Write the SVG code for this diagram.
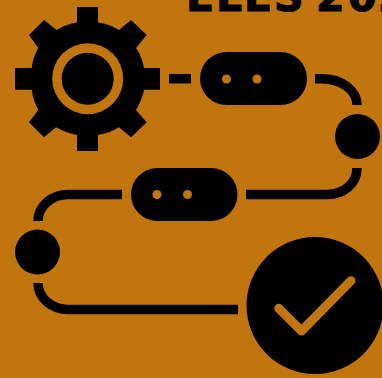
<svg xmlns="http://www.w3.org/2000/svg" width="382" height="378" viewBox="0 0 382 378">
<style>
.k{fill:#000}
.o{fill:#c1750f}
.c{fill:none;stroke:#000;stroke-width:9.5}
.t{font-family:"DejaVu Sans",sans-serif;font-weight:700;font-size:41px;fill:#000;stroke:#000;stroke-width:1.2}
</style>
<rect width="382" height="378" class="o"/>
<text class="t" x="186 216 244 274 303 316 348 378" y="11">ELLS 202</text>
<g id="connectors">
<path class="c" d="M169 78.700H191"/>
<path class="c" d="M315 78.700H322C341 78.700 357 90 357 105"/>
<path class="c" d="M357 168C357 184 343 194.500 327 194.500H246"/>
<path class="c" d="M122 194.500H68C52 194.500 38 206 38 221"/>
<path class="c" d="M38 283C38 298 52 309.500 68 309.500H238"/>
</g>
<g id="gear">
<path class="k" d="M77 7H98V22.500Q110 24 119 30L131 20L146.700 35L136 48Q142 57 144 68H160V89.700H144Q142 100 136 110L146.700 122.300L131 137.300L119 127.300Q110 133 98 135V151H77V135Q66 133 56 127.300L44 137.300L29 122.300L38.300 110Q33 100 31.700 89.700H15V68H31.700Q33 57 38.300 48L29 35L44 20L56.700 30Q66 24 77 22.500Z"/>
<circle class="o" cx="87.700" cy="78.700" r="35.500"/>
<circle class="k" cx="87.700" cy="78.700" r="26"/>
</g>
<g id="pill-1">
<rect class="k" x="200" y="52" width="107" height="53" rx="26.500"/>
<circle class="o" cx="226.500" cy="79" r="4.500"/>
<circle class="o" cx="257" cy="79" r="4.500"/>
</g>
<g id="dot-1"><circle class="k" cx="357.500" cy="136.500" r="22.500"/></g>
<g id="pill-2">
<rect class="k" x="131" y="168" width="106.500" height="53" rx="26.500"/>
<circle class="o" cx="157" cy="194.500" r="4.500"/>
<circle class="o" cx="187.500" cy="194.500" r="4.500"/>
</g>
<g id="dot-2"><circle class="k" cx="37.500" cy="252" r="22.500"/></g>
<g id="check">
<circle class="k" cx="315" cy="305.500" r="68.500"/>
<path d="M278.700 308.300L301.500 331L351 280.700" fill="none" stroke="#c1750f" stroke-width="9" stroke-linecap="round" stroke-linejoin="round"/>
</g>
</svg>
